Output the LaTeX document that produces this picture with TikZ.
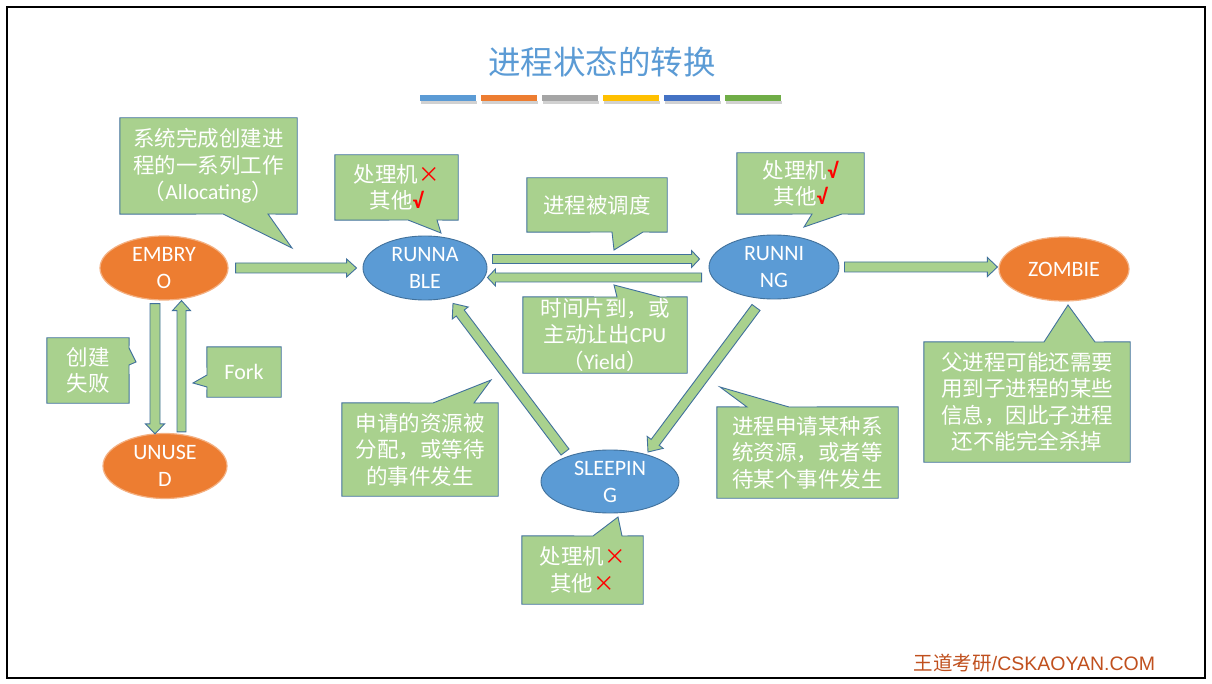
\documentclass[tikz,border=0pt]{standalone}
\usepackage{fontspec}
\setmainfont{Carlito}
\newfontfamily\cjk{Noto Sans CJK SC}
\newfontfamily\lat{Carlito}
\newfontfamily\arl{Liberation Sans}
\usetikzlibrary{shapes.geometric,calc,backgrounds}
\definecolor{cgreen}{HTML}{A9D18E}
\definecolor{cborder}{HTML}{41719C}
\definecolor{sblue}{HTML}{5B9BD5}
\definecolor{sorange}{HTML}{ED7D31}
\definecolor{sorangel}{HTML}{F4B183}
\definecolor{barA}{HTML}{5B9BD5}
\definecolor{barB}{HTML}{ED7D31}
\definecolor{barC}{HTML}{A5A5A5}
\definecolor{barD}{HTML}{FFC000}
\definecolor{barE}{HTML}{4472C4}
\definecolor{barF}{HTML}{70AD47}
\definecolor{wm}{HTML}{C0501E}
\newcommand\crs{{\color{red}×}}
\newcommand\chk{{\color{red}\lat\bfseries √}}
\tikzset{
  ellbase/.style={ellipse, inner sep=0pt, line width=0.9pt},
  blueell/.style={ellbase, fill=sblue, draw=cborder},
  orangeell/.style={ellbase, fill=sorange, draw=sorangel, line width=1.2pt},
  elltext/.style={text=white, align=center, inner sep=0pt, font=\lat\fontsize{22}{27}\selectfont},
  cbox/.style={inner sep=0pt, align=center, text=white, font=\cjk\fontsize{21.5}{26.5}\selectfont},
  cshape/.style={fill=cgreen, draw=cborder, line width=0.9pt, line join=miter},
  barrow/.style={fill=cgreen, draw=cborder, line width=0.9pt, line join=miter},
}
% block arrow: #1 start spec, #2 end spec, #3 shaft half width, #4 head half width, #5 head length
\newcommand\blockarr[5]{%
  \path (#1) coordinate (bs) (#2) coordinate (be);
  \path coordinate (ba) at ($(be)!#5!(bs)$);
  \draw[barrow] ($(bs)!#3!90:(be)$) -- ($(ba)!#3!-90:(bs)$) -- ($(ba)!#4!-90:(bs)$) -- (be)
     -- ($(ba)!#4!90:(bs)$) -- ($(ba)!#3!90:(bs)$) -- ($(bs)!#3!-90:(be)$) -- cycle;}
\begin{document}
\begin{tikzpicture}[x=1pt,y=-1pt]
\useasboundingbox (0,0) rectangle (1212,684);
\begin{scope}[on background layer]
  \fill[white] (0,0) rectangle (1212,684);
\end{scope}
\draw[line width=2.5pt, black] (7,7) rectangle (1205,678);

% title
\node[text=sblue, font=\cjk\fontsize{32.5}{32.5}\selectfont] (title) at (602,62) {进程状态的转换};
% colour bars
\foreach \c [count=\i from 0] in {barA,barB,barC,barD,barE,barF}{
  \fill[black!18] ({419.5+61*\i+1},101) rectangle ({419.5+61*\i+57},104.5);
  \fill[\c] ({419.5+61*\i},95) rectangle ({419.5+61*\i+56},101);
}

% states
\node[orangeell, minimum width=128pt, minimum height=64pt,
      label={[elltext]center:EMBRY\\O}] (embryo) at (164,268) {};
\node[blueell, minimum width=124pt, minimum height=64pt,
      label={[elltext]center:RUNNA\\BLE}] (runnable) at (425,268) {};
\node[blueell, minimum width=130pt, minimum height=64pt,
      label={[elltext]center:RUNNI\\NG}] (running) at (774,267) {};
\node[orangeell, minimum width=130pt, minimum height=64pt,
      label={[elltext]center:ZOMBIE}] (zombie) at (1064,269) {};
\node[orangeell, minimum width=124pt, minimum height=65pt,
      label={[elltext]center:UNUSE\\D}] (unused) at (165,466) {};
\node[blueell, minimum width=138pt, minimum height=63pt,
      label={[elltext]center:SLEEPIN\\G}] (sleeping) at (610,481.5) {};

% block arrows
\blockarr{[shift={(7,0)}]embryo.east}{[shift={(-6,0)}]runnable.west}{5pt}{9pt}{10pt}
\blockarr{[shift={(5,-9)}]runnable.east}{[shift={(-9,-8)}]running.west}{4.5pt}{8.5pt}{8pt}
\blockarr{[shift={(-7,10.5)}]running.west}{[shift={(0,9.5)}]runnable.east}{4.5pt}{8.5pt}{8pt}
\blockarr{[shift={(5,0)}]running.east}{[shift={(-1,-2)}]zombie.west}{5pt}{9.5pt}{10pt}
\blockarr{[shift={(-9,3)}]embryo.south}{[shift={(-10,1)}]unused.north}{5pt}{9.5pt}{10pt}
\blockarr{[shift={(16.5,-1)}]unused.north}{[shift={(17.5,0)}]embryo.south}{4.5pt}{9pt}{10pt}
\blockarr{[shift={(-45,-29.5)}]sleeping.center}{[shift={(28,3)}]runnable.south}{5pt}{10pt}{12pt}
\blockarr{[shift={(-18,8)}]running.south}{[shift={(38,-29.5)}]sleeping.center}{5pt}{10pt}{12pt}

% callouts
\node[cbox, minimum width=177pt, minimum height=96pt] (c1) at (208.5,166)
  {系统完成创建进\\程的一系列工作\\（{\lat Allocating}）};
\node[cbox, minimum width=123pt, minimum height=65pt] (c2) at (396.5,187.5)
  {处理机\crs\\其他\chk};
\node[cbox, minimum width=140pt, minimum height=54pt] (c3) at (597,205)
  {进程被调度};
\node[cbox, minimum width=164pt, minimum height=76pt] (c4) at (605,335)
  {时间片到，或\\主动让出{\lat CPU}\\（{\lat Yield}）};
\node[cbox, minimum width=127pt, minimum height=61pt] (c5) at (800.5,183.5)
  {处理机\chk\\其他\chk};
\node[cbox, minimum width=206pt, minimum height=120pt] (c6) at (1027,402)
  {父进程可能还需要\\用到子进程的某些\\信息，因此子进程\\还不能完全杀掉};
\node[cbox, minimum width=181pt, minimum height=91pt] (c7) at (807.5,452.5)
  {进程申请某种系\\统资源，或者等\\待某个事件发生};
\node[cbox, minimum width=156pt, minimum height=93pt] (c8) at (420,449.5)
  {申请的资源被\\分配，或等待\\的事件发生};
\node[cbox, minimum width=121pt, minimum height=68pt] (c9) at (582.5,570)
  {处理机\crs\\其他\crs};
\node[cbox, minimum width=82pt, minimum height=65pt] (c10) at (88,370.5)
  {创建\\失败};
\node[cbox, minimum width=74pt, minimum height=50pt, font=\lat\fontsize{22}{26}\selectfont] (c11) at (244,372)
  {Fork};

\begin{scope}[on background layer]
\draw[cshape] (c1.north west) -- (c1.north east) -- (c1.south east) -- (268,214) -- (292,248) -- (223,214) -- (c1.south west) -- cycle;
\draw[cshape] (c2.north west) -- (c2.north east) -- (c2.south east) -- (437,220) -- (441,233) -- (408,220) -- (c2.south west) -- cycle;
\draw[cshape] (c3.north west) -- (c3.north east) -- (c3.south east) -- (643,232) -- (614,250) -- (612,232) -- (c3.south west) -- cycle;
\draw[cshape] (c4.north west) -- (617,297) -- (614,285) -- (660,297) -- (c4.north east) -- (c4.south east) -- (c4.south west) -- cycle;
\draw[cshape] (c5.north west) -- (c5.north east) -- (c5.south east) -- (842,214) -- (804,227) -- (812,214) -- (c5.south west) -- cycle;
\draw[cshape] (c6.north west) -- (1044,342) -- (1068,305) -- (1095,342) -- (c6.north east) -- (c6.south east) -- (c6.south west) -- cycle;
\draw[cshape] (c7.north west) -- (747,407) -- (720,387) -- (789,407) -- (c7.north east) -- (c7.south east) -- (c7.south west) -- cycle;
\draw[cshape] (c8.north west) -- (433,403) -- (491,380) -- (474,403) -- (c8.north east) -- (c8.south east) -- (c8.south west) -- cycle;
\draw[cshape] (c9.north west) -- (593,536) -- (618,517) -- (622,536) -- (c9.north east) -- (c9.south east) -- (c9.south west) -- cycle;
\draw[cshape] (c10.north west) -- (c10.north east) -- (129,348) -- (136,362) -- (129,365) -- (c10.south east) -- (c10.south west) -- cycle;
\draw[cshape] (c11.north west) -- (c11.north east) -- (c11.south east) -- (c11.south west) -- (207,387) -- (193,383) -- (207,375) -- cycle;
\end{scope}

% watermark
\node[text=wm, inner sep=0pt, font=\fontsize{19.5}{19.5}\selectfont] (wmark) at (1034.5,663)
  {{\cjk 王道考研}{\arl /CSKAOYAN.COM}};
\end{tikzpicture}
\end{document}
